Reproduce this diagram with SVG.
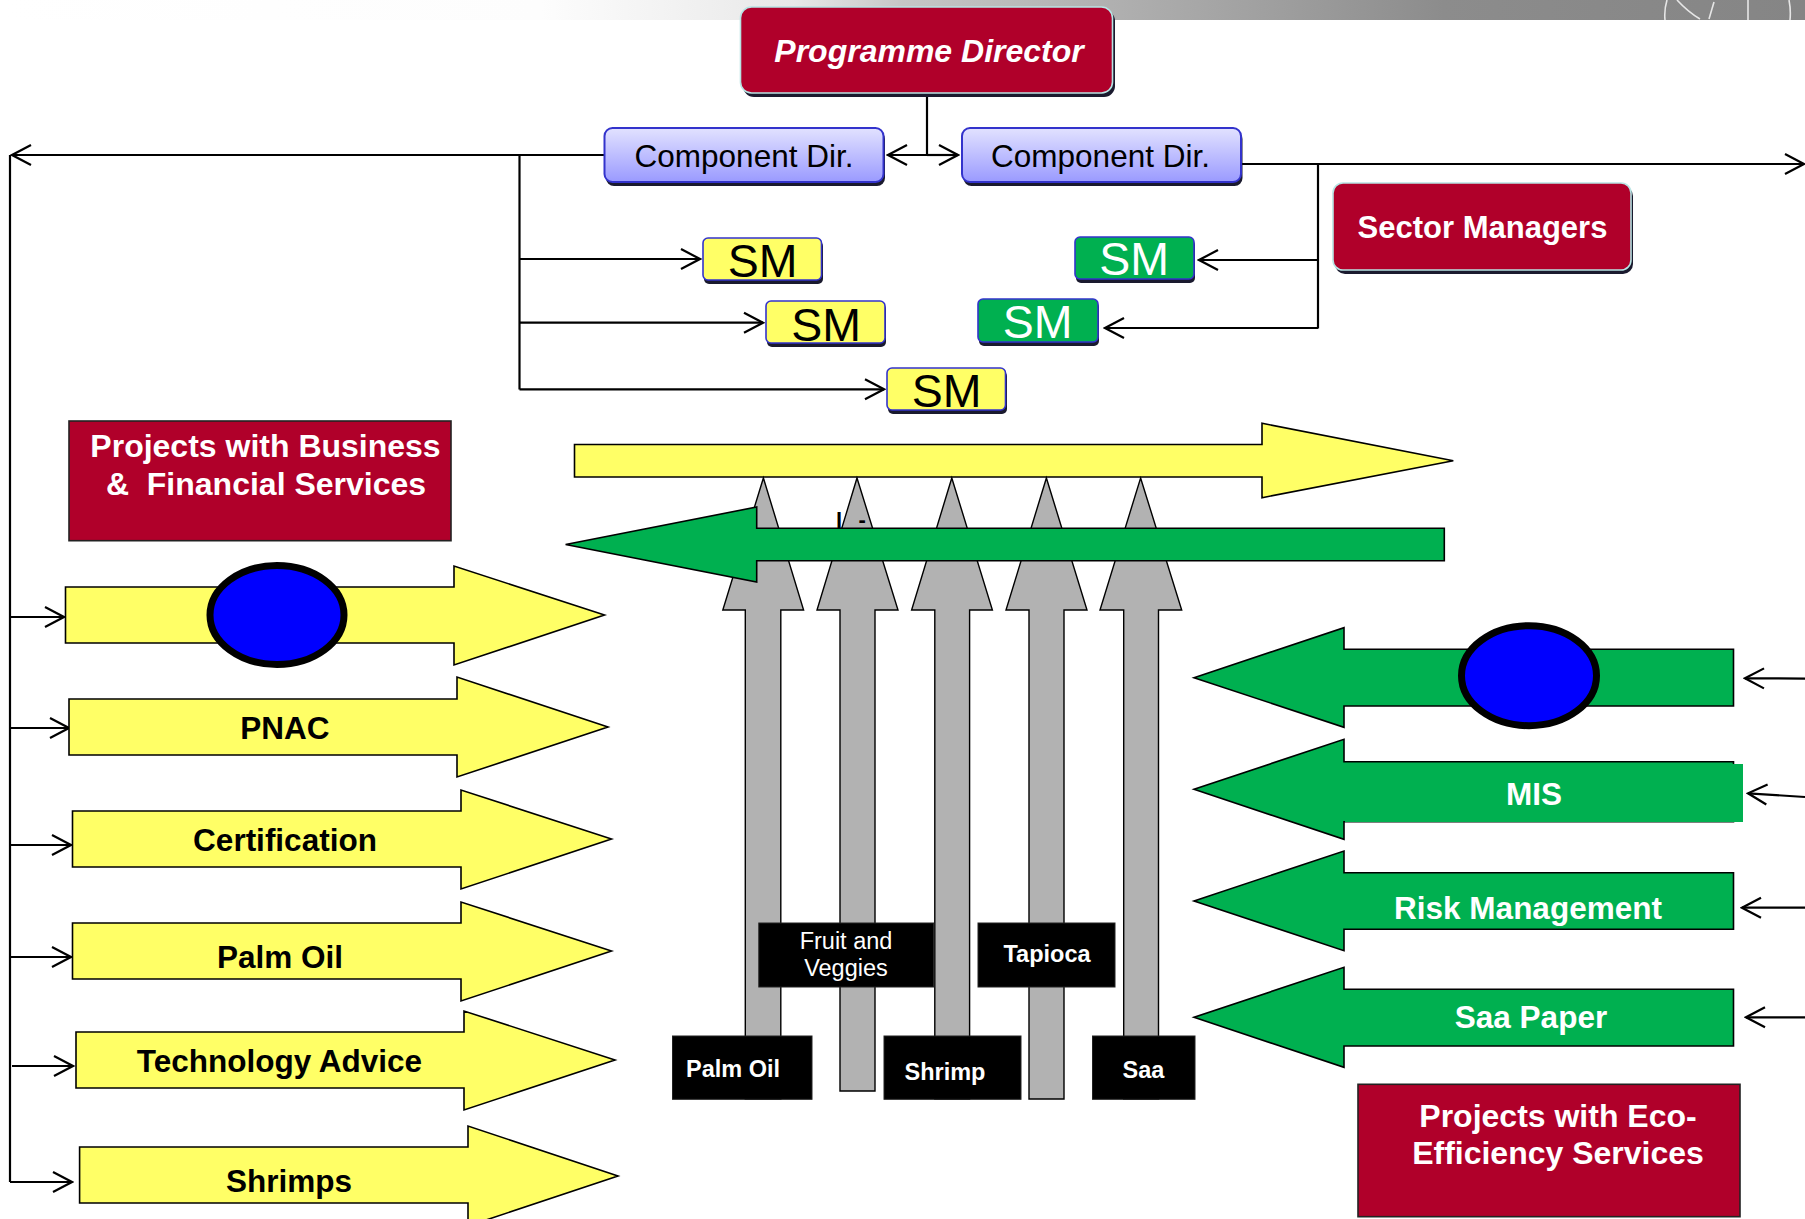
<svg xmlns="http://www.w3.org/2000/svg" width="1805" height="1219" viewBox="0 0 1805 1219">
  <defs>
    <linearGradient id="topbar" x1="0" y1="0" x2="1805" y2="0" gradientUnits="userSpaceOnUse">
      <stop offset="0" stop-color="#ffffff"/>
      <stop offset="0.3" stop-color="#fdfdfd"/>
      <stop offset="0.44" stop-color="#e8e8e8"/>
      <stop offset="0.5" stop-color="#c6c6c6"/>
      <stop offset="0.7" stop-color="#a0a0a0"/>
      <stop offset="0.8" stop-color="#8c8c8c"/>
      <stop offset="1" stop-color="#858585"/>
    </linearGradient>
    <linearGradient id="cdfill" x1="0" y1="0" x2="0" y2="1">
      <stop offset="0" stop-color="#e2e2ff"/>
      <stop offset="1" stop-color="#9a9aff"/>
    </linearGradient>
    <marker id="ah" markerUnits="userSpaceOnUse" markerWidth="24" markerHeight="26" viewBox="-22 -13 24 26" refX="0" refY="0" orient="auto">
      <path d="M-19,-10 L0,0 L-19,10" fill="none" stroke="#000" stroke-width="2.2"/>
    </marker>
    <style>
      text { font-family: "Liberation Sans", Arial, sans-serif; }
      .bold { font-weight: bold; }
      .white { fill: #ffffff; }
      .black { fill: #000000; }
      .crimson { fill: #b0002a; }
      .shadow { fill: #1a1a2e; }
      .cd { fill: url(#cdfill); stroke: #3333cc; stroke-width: 2; }
      .smy { fill: #ffff66; stroke: #3333cc; stroke-width: 1.6; }
      .smg { fill: #00b050; stroke: #3333cc; stroke-width: 1.6; }
      .yarrow { fill: #ffff66; stroke: #000; stroke-width: 1.6; stroke-linejoin: miter; }
      .garrow { fill: #00b050; stroke: #000; stroke-width: 1.6; }
      .grey { fill: #b2b2b2; stroke: #000; stroke-width: 1.4; }
      .blk { fill: #000; stroke: #222; stroke-width: 1; }
      .dot { fill: #0000ff; stroke: #000; stroke-width: 7; }
      .conn { fill: none; stroke: #000; stroke-width: 2.2; }
      .t31 { font-size: 31.5px; }
      .t23 { font-size: 23.5px; }
      .sm { font-size: 46.5px; }
    </style>
  </defs>

  <rect x="0" y="0" width="1805" height="1219" fill="#ffffff"/>
  <g id="top-band">
    <rect x="0" y="0" width="1805" height="20" fill="url(#topbar)"/>
    <g fill="none" stroke="#e6e6e6" stroke-width="1.6">
      <path d="M1667,0 Q1664,10 1665,20"/>
      <path d="M1677,0 Q1688,12 1700,19"/>
      <path d="M1714,2 L1709,19"/>
      <path d="M1748,0 L1748,20"/>
      <path d="M1789,0 Q1791,10 1790,20"/>
    </g>
  </g>

  <!-- connectors -->
  <g id="connectors" class="conn">
    <path d="M927,95 V155"/>
    <path d="M927,155 H888" marker-end="url(#ah)"/>
    <path d="M927,155 H958" marker-end="url(#ah)"/>
    <path d="M604,155 H12" marker-end="url(#ah)"/>
    <path d="M10,155 V1182"/>
    <path d="M519.5,155 V389.5"/>
    <path d="M519.5,259 H700" marker-end="url(#ah)"/>
    <path d="M519.5,322.7 H763" marker-end="url(#ah)"/>
    <path d="M519.5,389.3 H884" marker-end="url(#ah)"/>
    <path d="M1241,164 H1804" marker-end="url(#ah)"/>
    <path d="M1318,164 V328.5"/>
    <path d="M1318,260 H1199" marker-end="url(#ah)"/>
    <path d="M1318,328 H1105" marker-end="url(#ah)"/>
    <path d="M10,617 H64" marker-end="url(#ah)"/>
    <path d="M10,728 H69" marker-end="url(#ah)"/>
    <path d="M10,845 H71" marker-end="url(#ah)"/>
    <path d="M10,957 H71" marker-end="url(#ah)"/>
    <path d="M12,1066 H73" marker-end="url(#ah)"/>
    <path d="M10,1182 H72" marker-end="url(#ah)"/>
    <path d="M1805,678.6 L1745,678.3" marker-end="url(#ah)"/>
    <path d="M1805,797 L1748,793.3" marker-end="url(#ah)"/>
    <path d="M1805,907.7 H1742" marker-end="url(#ah)"/>
    <path d="M1805,1017.3 H1746" marker-end="url(#ah)"/>
  </g>

  <!-- top hierarchy -->
  <g id="programme-director">
    <rect x="743" y="10" width="372" height="87" rx="11" class="shadow"/>
    <rect x="740.5" y="7" width="372" height="86" rx="11" class="crimson" stroke="#b8e4e4" stroke-width="1.6"/>
    <text x="929" y="62" text-anchor="middle" class="white bold" font-style="italic" font-size="32">Programme Director</text>
  </g>
  <g id="component-dir-left">
    <rect x="606" y="131" width="279" height="55" rx="8" class="shadow"/>
    <rect x="604.5" y="128" width="279" height="54" rx="8" class="cd"/>
    <text x="744" y="166.7" text-anchor="middle" class="black" font-size="31.5">Component Dir.</text>
  </g>
  <g id="component-dir-right">
    <rect x="963.5" y="131" width="279" height="55" rx="8" class="shadow"/>
    <rect x="962" y="128" width="279" height="54" rx="8" class="cd"/>
    <text x="1100.5" y="166.7" text-anchor="middle" class="black" font-size="31.5">Component Dir.</text>
  </g>
  <g id="sector-managers">
    <rect x="1335" y="186" width="298" height="88" rx="10" class="shadow"/>
    <rect x="1333" y="183" width="298" height="87" rx="10" class="crimson" stroke="#b8e4e4" stroke-width="1.6"/>
    <text x="1482.5" y="238.3" text-anchor="middle" class="white bold" font-size="31">Sector Managers</text>
  </g>
  <g id="sm-yellow-1">
    <rect x="704" y="241" width="119" height="43" rx="5" class="shadow"/>
    <rect x="703" y="238" width="118.5" height="42" rx="5" class="smy"/>
    <text x="762.5" y="276.7" text-anchor="middle" class="black sm">SM</text>
  </g>
  <g id="sm-yellow-2">
    <rect x="767" y="304" width="119" height="43" rx="5" class="shadow"/>
    <rect x="766" y="301" width="119" height="42" rx="5" class="smy"/>
    <text x="826" y="340.7" text-anchor="middle" class="black sm">SM</text>
  </g>
  <g id="sm-yellow-3">
    <rect x="888" y="371" width="119" height="43" rx="5" class="shadow"/>
    <rect x="887" y="368" width="118.5" height="42" rx="5" class="smy"/>
    <text x="946.5" y="406.7" text-anchor="middle" class="black sm">SM</text>
  </g>
  <g id="sm-green-1">
    <rect x="1076" y="240" width="119" height="43" rx="5" class="shadow"/>
    <rect x="1075" y="237" width="119" height="42" rx="5" class="smg"/>
    <text x="1134" y="275" text-anchor="middle" class="white sm">SM</text>
  </g>
  <g id="sm-green-2">
    <rect x="979" y="302" width="120" height="44" rx="5" class="shadow"/>
    <rect x="978" y="299" width="120" height="43" rx="5" class="smg"/>
    <text x="1037.5" y="338.3" text-anchor="middle" class="white sm">SM</text>
  </g>

  <!-- left panel -->
  <g id="projects-business">
    <rect x="69" y="421" width="382" height="119.7" class="crimson" stroke="#222" stroke-width="1.6"/>
    <text x="265.5" y="457" text-anchor="middle" class="white bold" font-size="32">Projects with Business</text>
    <text x="266" y="495" text-anchor="middle" class="white bold" font-size="32" xml:space="preserve">&amp;  Financial Services</text>
  </g>
  <g id="arrow-blue-left">
    <polygon class="yarrow" points="65.5,587 454,587 454,566 604.5,615 454,665 454,643 65.5,643"/>
    <ellipse cx="277" cy="615" rx="67" ry="49.5" class="dot"/>
  </g>
  <g id="arrow-pnac">
    <polygon class="yarrow" points="69,699 457,699 457,677 608,727 457,777 457,755 69,755"/>
    <text x="285" y="739" text-anchor="middle" class="black bold t31">PNAC</text>
  </g>
  <g id="arrow-certification">
    <polygon class="yarrow" points="72.5,811 461,811 461,790 611.5,839 461,889 461,867 72.5,867"/>
    <text x="285" y="851" text-anchor="middle" class="black bold t31">Certification</text>
  </g>
  <g id="arrow-palm-oil">
    <polygon class="yarrow" points="72.5,923 461,923 461,902 611.5,951 461,1001 461,979 72.5,979"/>
    <text x="280" y="968" text-anchor="middle" class="black bold t31">Palm Oil</text>
  </g>
  <g id="arrow-technology-advice">
    <polygon class="yarrow" points="76,1032 464,1032 464,1011 615,1060 464,1110 464,1088 76,1088"/>
    <text x="279.5" y="1072" text-anchor="middle" class="black bold t31">Technology Advice</text>
  </g>
  <g id="arrow-shrimps">
    <polygon class="yarrow" points="79.6,1147 468,1147 468,1126 618,1176 468,1226 468,1203 79.6,1203"/>
    <text x="289" y="1192" text-anchor="middle" class="black bold t31">Shrimps</text>
  </g>

  <!-- centre -->
  <g id="arrow-yellow-main">
    <polygon class="yarrow" points="574.5,444.5 1262,444.5 1262,423.3 1453.3,460.7 1262,497.7 1262,477 574.5,477"/>
  </g>
  <g id="sector-arrows">
    <polygon class="grey" points="763.4,478 803.6,610 780.8,610 780.8,1099 745.3,1099 745.3,610 722.8,610"/>
    <polygon class="grey" points="857,478 898,610 875,610 875,1091 840,1091 840,610 817,610"/>
    <polygon class="grey" points="951.8,478 992.4,610 969.6,610 969.6,1099 934.8,1099 934.8,610 911.6,610"/>
    <polygon class="grey" points="1046.4,478 1087,610 1064,610 1064,1099 1029,1099 1029,610 1006,610"/>
    <polygon class="grey" points="1140.6,478 1181.7,610 1158.5,610 1158.5,1099 1123.7,1099 1123.7,610 1100,610"/>
  </g>
  <g id="hidden-label">
    <text x="836" y="528" class="black bold" font-size="22">l</text>
    <text x="858.5" y="527" class="black bold" font-size="22">-</text>
  </g>
  <g id="arrow-green-main">
    <polygon class="garrow" points="565.6,544.5 756.7,507 756.7,528.3 1444.3,528.3 1444.3,560.7 756.7,560.7 756.7,582"/>
  </g>
  <g id="label-palm-oil">
    <rect x="672.5" y="1036" width="139.5" height="63.3" class="blk"/>
    <text x="733" y="1076.7" text-anchor="middle" class="white bold t23">Palm Oil</text>
  </g>
  <g id="label-fruit-veggies">
    <rect x="758.8" y="923" width="175" height="64" class="blk"/>
    <text x="846" y="949" text-anchor="middle" class="white t23">Fruit and</text>
    <text x="846" y="976" text-anchor="middle" class="white t23">Veggies</text>
  </g>
  <g id="label-shrimp">
    <rect x="884" y="1036" width="137" height="63.3" class="blk"/>
    <text x="945" y="1080" text-anchor="middle" class="white bold t23">Shrimp</text>
  </g>
  <g id="label-tapioca">
    <rect x="978" y="923" width="137" height="64" class="blk"/>
    <text x="1047" y="961.7" text-anchor="middle" class="white bold t23">Tapioca</text>
  </g>
  <g id="label-saa">
    <rect x="1092.5" y="1036" width="102.5" height="63.3" class="blk"/>
    <text x="1143.5" y="1078" text-anchor="middle" class="white bold t23">Saa</text>
  </g>

  <!-- right panel -->
  <g id="arrow-blue-right">
    <polygon class="garrow" points="1194,677.7 1344,627.7 1344,649.3 1733.5,649.3 1733.5,706 1344,706 1344,727.3"/>
    <ellipse cx="1529" cy="675.7" rx="67.5" ry="50" class="dot"/>
  </g>
  <g id="arrow-mis">
    <polygon class="garrow" points="1194,789.3 1344,739.3 1344,761.7 1733.5,761.7 1733.5,821.7 1344,821.7 1344,839.3"/>
    <rect x="1345" y="764" width="398" height="58" fill="#00b050"/>
    <text x="1534" y="805" text-anchor="middle" class="white bold t31">MIS</text>
  </g>
  <g id="arrow-risk-management">
    <polygon class="garrow" points="1194,901 1344,851 1344,872.7 1733.5,872.7 1733.5,929.3 1344,929.3 1344,950.7"/>
    <text x="1528" y="919.3" text-anchor="middle" class="white bold t31">Risk Management</text>
  </g>
  <g id="arrow-saa-paper">
    <polygon class="garrow" points="1194,1017.3 1344,967.3 1344,989.3 1733.5,989.3 1733.5,1046 1344,1046 1344,1067.3"/>
    <text x="1531" y="1028" text-anchor="middle" class="white bold t31">Saa Paper</text>
  </g>
  <g id="projects-eco">
    <rect x="1358" y="1084.3" width="382" height="132.4" class="crimson" stroke="#222" stroke-width="1.6"/>
    <text x="1558" y="1126.7" text-anchor="middle" class="white bold" font-size="32">Projects with Eco-</text>
    <text x="1558" y="1164" text-anchor="middle" class="white bold" font-size="32">Efficiency Services</text>
  </g>
</svg>
